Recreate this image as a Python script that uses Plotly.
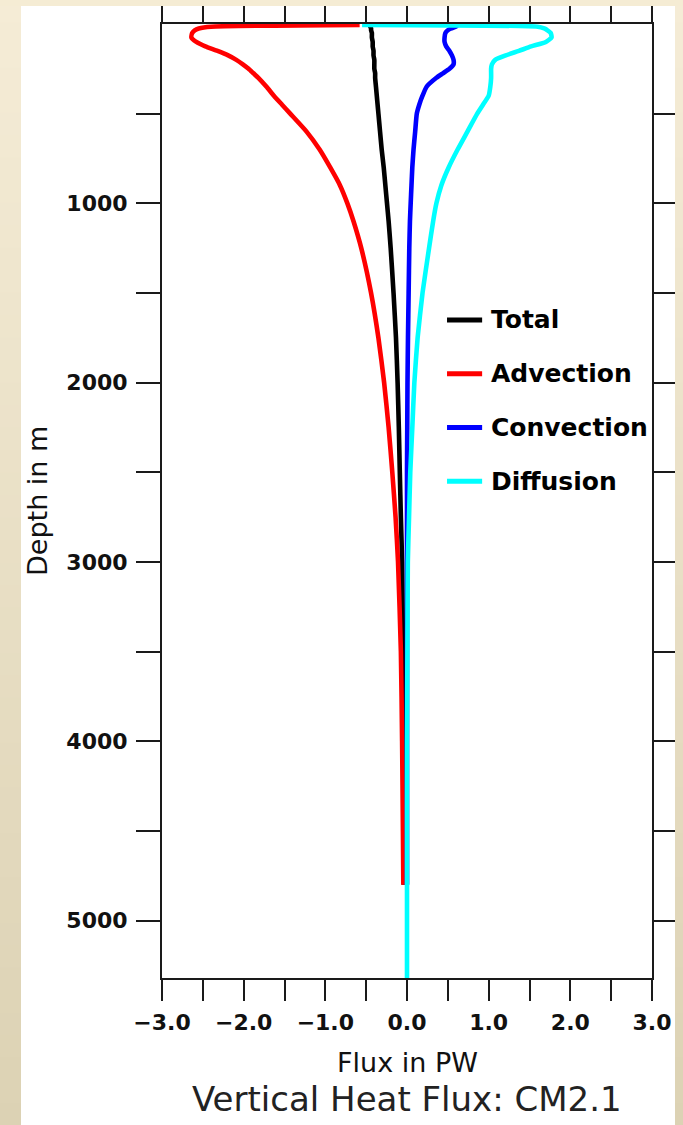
import plotly.graph_objects as go

# Model levels (m) and the basin-integrated vertical heat flux components (PW)
depth_m = [5, 15, 25, 35, 50, 75, 100, 125, 150, 175, 200, 225, 250, 275, 300,
           350, 400, 450, 500, 600, 700, 800, 900, 1000, 1100, 1250, 1500, 1750,
           2000, 2250, 2500, 2750, 3000, 3500, 4000, 4500, 4800, 5100, 5320]

total = [-0.45, -0.45, -0.44, -0.44, -0.43, -0.43, -0.42, -0.42, -0.41, -0.41,
         -0.40, -0.40, -0.40, -0.39, -0.39, -0.38, -0.37, -0.36, -0.35, -0.33,
         -0.31, -0.285, -0.265, -0.245, -0.225, -0.20, -0.165, -0.135, -0.115,
         -0.10, -0.088, -0.075, -0.06, -0.05, -0.045, -0.04, -0.04, None, None]

advection = [-0.58, -2.40, -2.55, -2.60, -2.63, -2.64, -2.58, -2.47, -2.32, -2.19,
             -2.09, -2.01, -1.94, -1.88, -1.82, -1.72, -1.63, -1.53, -1.43, -1.23,
             -1.07, -0.94, -0.82, -0.73, -0.655, -0.56, -0.44, -0.35, -0.28, -0.225,
             -0.18, -0.14, -0.11, -0.075, -0.06, -0.05, -0.045, None, None]

convection = [0.62, 0.60, 0.54, 0.50, 0.47, 0.46, 0.46, 0.48, 0.52, 0.55, 0.57,
              0.57, 0.52, 0.44, 0.36, 0.24, 0.19, 0.15, 0.12, 0.10, 0.08, 0.065,
              0.055, 0.045, 0.036, 0.028, 0.02, 0.012, 0.006, 0.003, 0.0, 0.0,
              0.0, 0.0, 0.0, 0.0, 0.0, None, None]

diffusion = [-0.55, 1.60, 1.68, 1.72, 1.76, 1.77, 1.70, 1.52, 1.37, 1.21, 1.08,
             1.04, 1.03, 1.03, 1.03, 1.02, 1.00, 0.93, 0.86, 0.74, 0.62, 0.51,
             0.42, 0.36, 0.32, 0.27, 0.19, 0.13, 0.09, 0.065, 0.04, 0.025, 0.01,
             0.005, 0.0, 0.0, 0.0, 0.0, 0.0]

series_names = ["Total", "Advection", "Convection", "Diffusion"]
series_colors = ["#000000", "#ff0000", "#0000ff", "#00ffff"]
series_values = [total, advection, convection, diffusion]

x_major_ticks = [-3.0, -2.0, -1.0, 0.0, 1.0, 2.0, 3.0]
y_major_ticks = [1000, 2000, 3000, 4000, 5000]
y_minor_ticks = [500, 1500, 2500, 3500, 4500]
x_range = [-3.0, 3.0]
depth_range = [5320, 0]

# Page geometry (px)
W, H = 683, 1125
ML, MR, MT, MB = 162, 31, 24, 147
PW = W - ML - MR
PH = H - MT - MB


def px_x(px):
    return (px - ML) / PW


def px_y(py):
    return (H - MB - py) / PH


FONT = "DejaVu Sans"
AX = "#1a1a1a"

fig = go.Figure()
for name, color, vals in zip(series_names, series_colors, series_values):
    fig.add_trace(go.Scatter(x=vals, y=depth_m, mode="lines", name=name,
                             line=dict(color=color, width=4.6, shape="spline",
                                       smoothing=0.5),
                             connectgaps=False, showlegend=False))

shapes = []
annotations = []

# Beige page border strips, shaded from light at the top to darker below
top_rgb = (245, 236, 214)
bot_rgb = (220, 210, 180)
steps = 50
for i in range(steps):
    t = i / (steps - 1)
    c = tuple(round(a + (b - a) * t) for a, b in zip(top_rgb, bot_rgb))
    col = "rgb(%d,%d,%d)" % c
    y0 = H * i / steps
    y1 = H * (i + 1) / steps + 1
    for (x0, x1) in [(0, 21), (675, W)]:
        shapes.append(dict(type="rect", xref="paper", yref="paper",
                           x0=px_x(x0), x1=px_x(x1), y0=px_y(y1), y1=px_y(y0),
                           line=dict(width=0), fillcolor=col, layer="above"))
shapes.append(dict(type="rect", xref="paper", yref="paper",
                   x0=px_x(0), x1=px_x(W), y0=px_y(6), y1=px_y(0),
                   line=dict(width=0), fillcolor="rgb(245,236,212)", layer="above"))

# Legend: coloured bars with bold labels
leg_x0, leg_x1, leg_tx = 0.49, 0.92, 1.0
leg_y0, leg_dy = 1650, 300
for i, (name, color) in enumerate(zip(series_names, series_colors)):
    yy = leg_y0 + i * leg_dy
    shapes.append(dict(type="line", xref="x", yref="y", x0=leg_x0, x1=leg_x1,
                       y0=yy, y1=yy, line=dict(color=color, width=5)))
    annotations.append(dict(xref="x", yref="y", x=leg_tx, y=yy, text=name,
                            showarrow=False, xanchor="left", yanchor="middle",
                            font=dict(family=FONT, size=25, color="#000",
                                      weight="bold")))

annotations.append(dict(xref="paper", yref="paper", x=0.5, y=0, yanchor="middle",
                        yshift=-84, text="Flux in PW", showarrow=False,
                        font=dict(family=FONT, size=27, color="#111")))
annotations.append(dict(xref="paper", yref="paper", x=0.5, y=0, yanchor="middle",
                        yshift=-121, text="Vertical Heat Flux: CM2.1", showarrow=False,
                        font=dict(family=FONT, size=34, color="#222")))
annotations.append(dict(xref="paper", yref="paper", x=0, y=0.5, xanchor="center",
                        yanchor="middle", xshift=-125, textangle=-90,
                        text="Depth in m", showarrow=False,
                        font=dict(family=FONT, size=27, color="#111")))

fig.update_layout(
    width=W, height=H,
    margin=dict(l=ML, r=MR, t=MT, b=MB, pad=0, autoexpand=False),
    paper_bgcolor="white", plot_bgcolor="white",
    shapes=shapes, annotations=annotations,
    showlegend=False,
    xaxis=dict(range=x_range, tickvals=x_major_ticks, tickformat=".1f",
               automargin=False,
               ticks="outside", ticklen=21, tickwidth=2, tickcolor=AX,
               showline=True, linewidth=2, linecolor=AX, mirror="allticks",
               showgrid=False, zeroline=False, ticklabelstandoff=3,
               tickfont=dict(family=FONT, size=22, color="#111", weight="bold"),
               minor=dict(dtick=0.5, tick0=0, ticks="outside", ticklen=21,
                          tickwidth=2, tickcolor=AX, showgrid=False)),
    yaxis=dict(range=depth_range, tickvals=y_major_ticks,
               automargin=False,
               ticks="outside", ticklen=24, tickwidth=2, tickcolor=AX,
               showline=True, linewidth=2, linecolor=AX, mirror="allticks",
               showgrid=False, zeroline=False, ticklabelstandoff=4,
               tickfont=dict(family=FONT, size=22, color="#111", weight="bold"),
               minor=dict(tickvals=y_minor_ticks, ticks="outside", ticklen=24,
                          tickwidth=2, tickcolor=AX, showgrid=False)),
)

fig.write_html("out.html")
